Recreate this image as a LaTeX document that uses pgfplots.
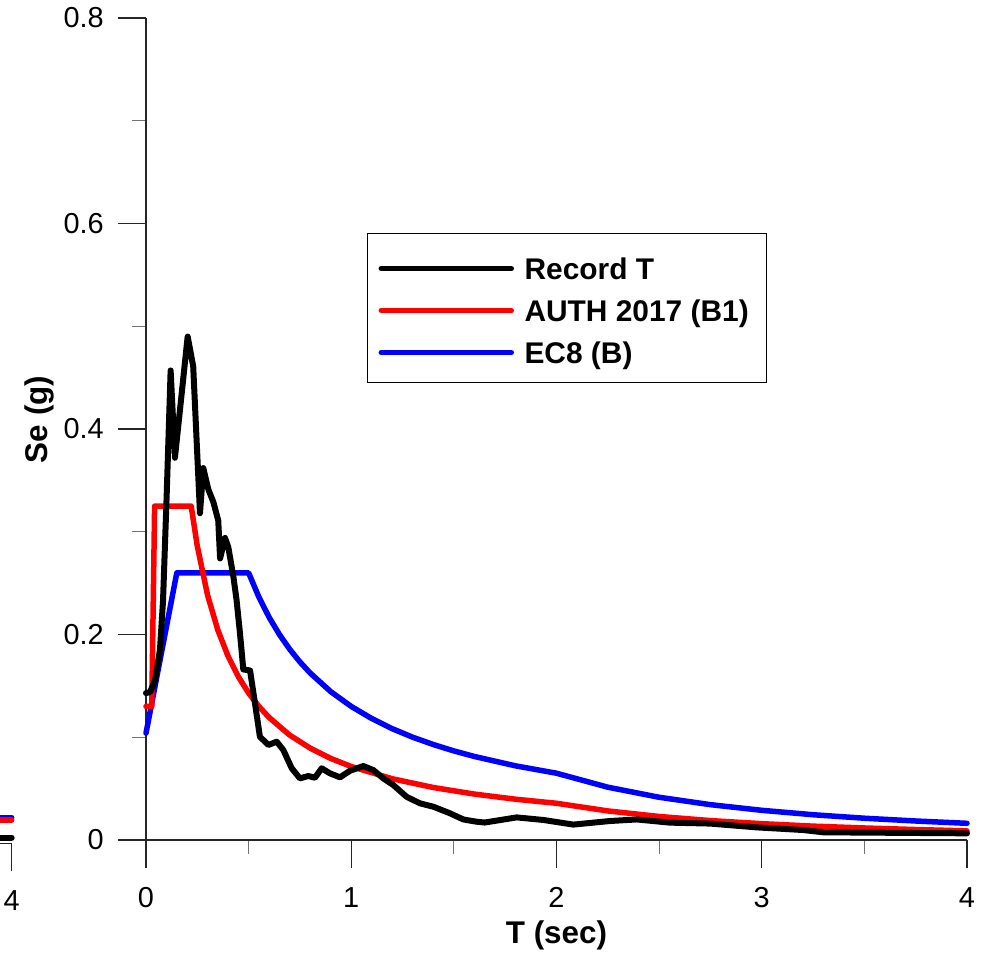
\documentclass[border=0pt]{standalone}
\usepackage{pgfplots}
\pgfplotsset{compat=1.18}
\usepackage{fontspec}
\setmainfont{Liberation Sans}
\definecolor{ecblue}{RGB}{0,0,255}
\definecolor{authred}{RGB}{255,0,0}
\pgfplotsset{
  common/.style={
    scale only axis, width=821bp, height=822bp,
    xmin=0, xmax=4, ymin=0, ymax=0.8,
    clip=false,
    tick align=outside,
    major tick length=28bp, minor tick length=14bp,
    axis line style={black!85, line width=1.1bp},
    major tick style={black!85, line width=1.1bp},
    minor tick style={black!55, line width=1.1bp},
    /pgf/number format/assume math mode=true,
    /pgf/number format/fixed,
    ticklabel style={font=\fontsize{29}{29}\selectfont, inner sep=0pt},
    xticklabel shift=19bp, yticklabel shift=14bp,
    every axis plot/.append style={line width=5.5bp, line join=round, line cap=round},
  }
}
\begin{document}
\begin{tikzpicture}
\useasboundingbox (0bp,0bp) rectangle (989bp,-956bp);
% fragment of the neighbouring chart at the left edge
\begin{axis}[common, at={(-809.3bp,-843.3bp)}, anchor=south west,
  axis x line*=bottom, axis y line=none, xtick={4}, ytick=\empty]
\addplot[ecblue] coordinates {(3.9,0.0249) (4,0.0249)};
\addplot[authred] coordinates {(3.9,0.0227) (4,0.0227)};
\addplot[black, line width=6bp] coordinates {(3.9,0.0055) (4,0.0055)};
\end{axis}
% main chart
\begin{axis}[common, at={(146bp,-840bp)}, anchor=south west,
  axis x line*=bottom, axis y line*=left,
  xtick={0,1,2,3,4}, ytick={0,0.2,0.4,0.6,0.8},
  minor x tick num=1, minor y tick num=1,
  xlabel={T (sec)}, ylabel={Se (g)},
  label style={font=\bfseries\fontsize{31.5}{31.5}\selectfont},
  xlabel style={at={(axis description cs:0.5,-0.1265)}, anchor=base},
  ylabel style={at={(axis description cs:-0.1297,0.5116)}, anchor=center},
  reverse legend,
  legend cell align=left,
  legend image code/.code={\draw[#1,line width=5.5bp,line cap=round] (0bp,-2.5bp) -- (130bp,-2.5bp);},
  legend style={at={(axis description cs:0.2692,0.7384)}, anchor=north west,
    draw=black, line width=1.1bp, fill=white,
    inner xsep=11bp, inner ysep=11.5bp, row sep=0pt, column sep=10.5bp,
    nodes={inner sep=0pt, text height=34.25bp, text depth=7.75bp,
      font=\bfseries\fontsize{30}{30}\selectfont}},
]
\addplot[ecblue] coordinates {
(0,0.104) (0.15,0.26) (0.5,0.26) (0.55,0.2364) (0.6,0.2167) (0.65,0.2) (0.7,0.1857)
(0.75,0.1733) (0.8,0.1625) (0.9,0.1444) (1.0,0.13) (1.1,0.1182) (1.2,0.1083) (1.3,0.1)
(1.4,0.0929) (1.5,0.0867) (1.6,0.0813) (1.8,0.0722) (2.0,0.065) (2.25,0.0514)
(2.5,0.0416) (2.75,0.0344) (3.0,0.0289) (3.25,0.0246) (3.5,0.0212) (3.75,0.0185)
(4.0,0.01625)};
\addlegendentry{EC8 (B)}
\addplot[authred] coordinates {
(0,0.13) (0.028,0.13) (0.042,0.325) (0.22,0.325) (0.25,0.286) (0.3,0.2383) (0.35,0.2043)
(0.4,0.1788) (0.45,0.1589) (0.5,0.143) (0.55,0.13) (0.6,0.1192) (0.7,0.1021) (0.8,0.0894)
(0.9,0.0794) (1.0,0.0715) (1.2,0.0596) (1.4,0.0511) (1.6,0.0447) (1.8,0.0397)
(2.0,0.03575) (2.25,0.0283) (2.5,0.0229) (2.75,0.0189) (3.0,0.0159) (3.25,0.0135)
(3.5,0.0117) (3.75,0.0102) (4.0,0.0089)};
\addlegendentry{AUTH 2017 (B1)\kern7bp\null}
\addplot[black, line width=6bp] coordinates {
(0,0.143) (0.02,0.144) (0.045,0.156) (0.068,0.185) (0.083,0.233) (0.1,0.331)
(0.12,0.457) (0.141,0.372) (0.203,0.490) (0.23,0.461) (0.263,0.318) (0.279,0.362)
(0.304,0.341) (0.328,0.329) (0.352,0.311) (0.361,0.274) (0.385,0.294) (0.401,0.285)
(0.426,0.256) (0.441,0.234) (0.458,0.201) (0.474,0.166) (0.507,0.165) (0.531,0.133)
(0.555,0.1005) (0.596,0.0925) (0.637,0.0957) (0.669,0.0876) (0.710,0.0698)
(0.750,0.060) (0.791,0.0623) (0.823,0.0606) (0.856,0.0698) (0.896,0.0649)
(0.945,0.061) (0.994,0.0674) (1.059,0.0720) (1.108,0.068) (1.156,0.060)
(1.205,0.0535) (1.27,0.042) (1.335,0.0357) (1.400,0.0324) (1.481,0.026)
(1.546,0.020) (1.611,0.0178) (1.65,0.017) (1.806,0.022) (1.936,0.0195)
(2.082,0.015) (2.261,0.0185) (2.391,0.020) (2.553,0.0169) (2.748,0.016)
(2.975,0.0123) (3.203,0.0097) (3.30,0.0075) (4.0,0.0065)};
\addlegendentry{Record T}
\end{axis}
\end{tikzpicture}
\end{document}
